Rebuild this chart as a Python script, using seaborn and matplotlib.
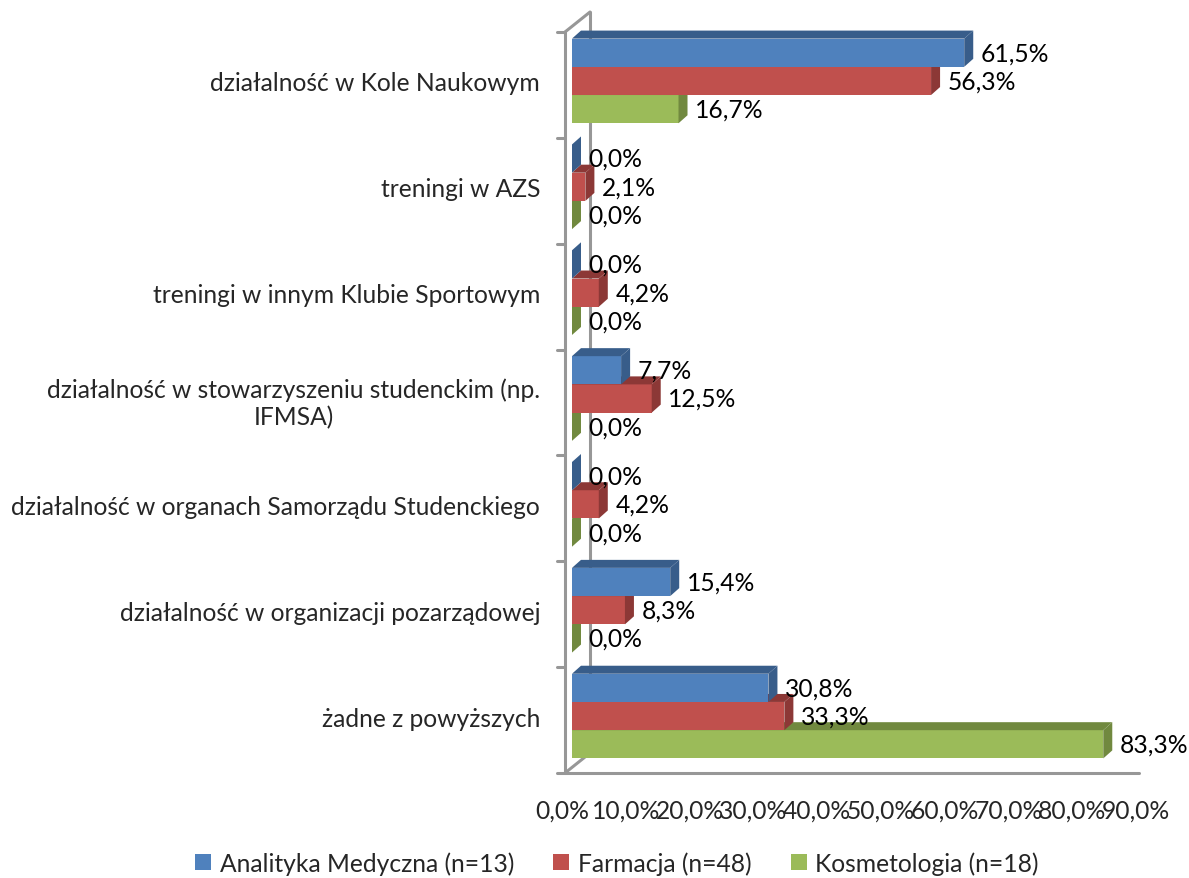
import numpy as np
import pandas as pd
import matplotlib
matplotlib.use("Agg")
import matplotlib.pyplot as plt
from matplotlib.patches import Polygon, Patch
from matplotlib.lines import Line2D
from matplotlib.transforms import ScaledTranslation
import seaborn as sns

categories = [
    "działalność w Kole Naukowym",
    "treningi w AZS",
    "treningi w innym Klubie Sportowym",
    "działalność w stowarzyszeniu studenckim (np.\nIFMSA)",
    "działalność w organach Samorządu Studenckiego",
    "działalność w organizacji pozarządowej",
    "żadne z powyższych",
]
series = ["Analityka Medyczna (n=13)", "Farmacja (n=48)", "Kosmetologia (n=18)"]
analityka = [61.5, 0.0, 0.0, 7.7, 0.0, 15.4, 30.8]
farmacja = [56.3, 2.1, 4.2, 12.5, 4.2, 8.3, 33.3]
kosmetologia = [16.7, 0.0, 0.0, 0.0, 0.0, 0.0, 83.3]
xticks = [0, 10, 20, 30, 40, 50, 60, 70, 80, 90]

colors = ["#4F81BD", "#C0504D", "#9BBB59"]
dark = ["#385D8A", "#8C3836", "#71893F"]

rows = []
for s, vals in zip(series, [analityka, farmacja, kosmetologia]):
    for c, v in zip(categories, vals):
        rows.append({"category": c, "series": s, "value": v})
df = pd.DataFrame(rows)

sns.set_style("white")
plt.rcParams["font.family"] = ["Lato", "DejaVu Sans"]
FS = 17.7

W, H = 1189, 879
fig = plt.figure(figsize=(W / 100, H / 100), dpi=100)
L, R, T, B = 572, 1146, 29, 770
ax = fig.add_axes([L / W, 1 - B / H, (R - L) / W, (B - T) / H])

sns.barplot(data=df, y="category", x="value", hue="series", palette=colors,
            orient="h", width=0.8, saturation=1, legend=False, ax=ax)
ax.set_xlim(0, 90)
ax.set_ylim(len(categories) - 0.5, -0.5)
ax.set_xlabel("")
ax.set_ylabel("")
for sp in ax.spines.values():
    sp.set_visible(False)

# 3D faces
px_x = (R - L) / 90.0
px_y = (B - T) / len(categories)
ddx = 9 / px_x
ddy = 8 / px_y
for i, cont in enumerate(ax.containers):
    z = 5 - i
    vals = [analityka, farmacja, kosmetologia][i]
    for bar in cont:
        bar.set_zorder(z)
        bar.set_edgecolor("none")
        x0 = bar.get_x()
        x1 = x0 + bar.get_width()
        yt = bar.get_y()
        yb = yt + bar.get_height()
        top = Polygon([(x0, yt), (x1, yt), (x1 + ddx, yt - ddy), (x0 + ddx, yt - ddy)],
                      closed=True, facecolor=dark[i], edgecolor="none", zorder=z,
                      clip_on=False)
        side = Polygon([(x1, yt), (x1, yb), (x1 + ddx, yb - ddy), (x1 + ddx, yt - ddy)],
                       closed=True, facecolor=dark[i], edgecolor="none", zorder=z,
                       clip_on=False)
        ax.add_patch(top)
        ax.add_patch(side)
    ax.bar_label(cont, labels=[f"{v:.1f}%".replace(".", ",") for v in vals],
                 padding=12, fontsize=FS, color="black", zorder=10)

# walls / frame of the 3D plot
aw, ah = R - L, B - T
def fx(p):
    return p / aw
def fy(p):
    return p / ah
gray = "#979797"
fo_x, fo_y = -7, -4
dp_x, dp_y = 25, 20
kw = dict(transform=ax.transAxes, color=gray, lw=2.2, clip_on=False, zorder=1)
ax.add_line(Line2D([fx(fo_x), fx(fo_x)], [1 + fy(fo_y), fy(fo_y)], **kw))
ax.add_line(Line2D([fx(fo_x + dp_x), fx(fo_x + dp_x)],
                   [1 + fy(fo_y + dp_y), fy(fo_y + dp_y)], **kw))
ax.add_line(Line2D([fx(fo_x), fx(fo_x + dp_x)], [1 + fy(fo_y), 1 + fy(fo_y + dp_y)], **kw))
ax.add_line(Line2D([fx(fo_x), fx(fo_x + dp_x)], [fy(fo_y), fy(fo_y + dp_y)], **kw))
ax.add_line(Line2D([fx(fo_x), 1 + fx(fo_x)], [fy(fo_y), fy(fo_y)], **kw))
for k in range(len(categories) + 1):
    yy = 1 - k / len(categories) + fy(fo_y)
    ax.add_line(Line2D([fx(fo_x - 8), fx(fo_x)], [yy, yy], **kw))

ax.set_xticks(xticks)
ax.set_xticklabels([f"{t:.1f}%".replace(".", ",") for t in xticks], fontsize=FS)
ax.tick_params(axis="x", length=0, pad=21)
ax.tick_params(axis="y", length=0, pad=23, labelsize=FS)
for lab in ax.get_yticklabels():
    lab.set_multialignment("center")
for lab in ax.get_xticklabels():
    lab.set_transform(lab.get_transform() + ScaledTranslation(-0.10, 0, fig.dpi_scale_trans))

handles = [Patch(facecolor=c, edgecolor="none") for c in colors]
fig.legend(handles, series, loc="center", bbox_to_anchor=(617 / W, 1 - 864 / H),
           ncol=3, frameon=False, fontsize=FS, handlelength=0.65, handleheight=0.65,
           handletextpad=0.35, columnspacing=1.6)

fig.savefig("out.png", dpi=100)
